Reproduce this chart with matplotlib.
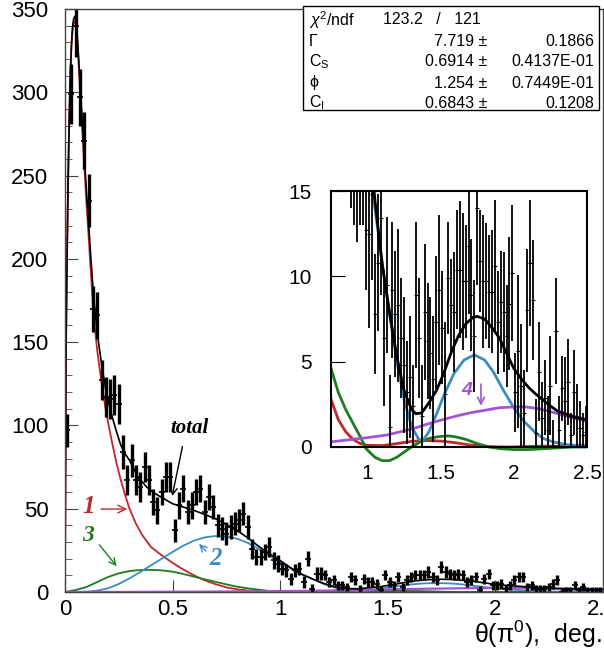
import numpy as np
import matplotlib
matplotlib.use("Agg")
import matplotlib.pyplot as plt
from matplotlib.patches import Rectangle

plt.rcParams['font.family'] = ['Liberation Sans', 'DejaVu Sans']
plt.rcParams['mathtext.fontset'] = 'custom'
plt.rcParams['mathtext.rm'] = 'Liberation Sans'
plt.rcParams['mathtext.it'] = 'Liberation Sans:italic'

# ============ data ============
# bin centres (bin width 0.02 deg)
theta = np.round(np.arange(0.01, 2.5, 0.02), 2)
counts = [97, 299, 340, 297, 271, 235, 170, 166, 127, 117,
          116, 118, 113, 84, 67, 79, 67, 63, 75, 67,
          54, 49, 60, 69, 69, 37, 52, 62, 48, 52,
          60, 62, 48, 57, 51, 40, 38, 35, 39, 41,
          43, 47, 39, 26, 21, 21, 24, 27, 19, 17,
          14, 13, 8, 13, 14, 6, 20, 2, 11, 11,
          10, 6, 7, 4, 4, 3, 9, 7, 2, 8,
          6, 6, 5, 1, 10, 6, 4, 9, 3, 7,
          9, 10, 10, 10, 12, 9, 7, 15, 12, 11,
          10, 11, 10, 6, 7, 9, 1, 8, 11, 4,
          4, 5, 2, 4, 7, 9, 9, 3, 4, 2,
          2, 2, 3, 5, 7, 0, 1, 1, 4, 1,
          3, 1, 1, 1, 1]
errs = [10, 18, 19, 17, 17, 16, 14, 14, 12, 12,
        12, 12, 12, 10, 9, 10, 9, 9, 9, 9,
        8, 8, 8, 9, 9, 7, 8, 8, 7, 8,
        8, 8, 7, 8, 7, 7, 7, 7, 7, 7,
        7, 7, 7, 6, 5, 5, 5, 6, 5, 5,
        4, 4, 3.5, 4, 4, 3.5, 4.5, 3, 4, 4,
        3, 3, 3, 2.5, 2.5, 2.5, 3, 3, 2.5, 3,
        3, 3, 3, 2.5, 3, 3, 2.5, 3, 2.5, 3,
        3, 3, 3, 3, 3.5, 3, 3, 3.5, 3.5, 3,
        3, 3, 3, 3, 3, 3, 2.5, 3, 3, 2.5,
        2.5, 3, 2.5, 2.5, 3, 3, 3, 2.5, 2.5, 2.5,
        2.5, 2.5, 2.5, 3, 3, 2, 2, 2, 2.5, 2,
        2.5, 2, 2, 2, 2]

# data shown in the zoomed inset
inset_theta = np.round(np.arange(0.89, 2.5, 0.02), 2)
inset_counts = [18, 17, 16.5, 17, 17, 12.7,
                12.5, 14.8, 7.8, 10.8, 13.4, 6.4, 9.5, 1.2, 9.2, 7.8,
                8.3, 6.4, 4.8, 3.2, 4.1, 2.4, 8.9, 6.4, 1.8, 7.9,
                6.2, 5.5, 4.0, 7.3, 9.2, 7.0, 3.1, 9.9, 8.3, 7.9,
                10.4, 10.4, 9.7, 9.7, 11.8, 8.9, 6.5, 14.0, 10.9, 9.7,
                9.7, 9.1, 9.1, 10.6, 7.3, 8.5, 7.9, 6.5, 8.4, 10.2,
                3.2, 5.6, 3.6, 2.0, 8.0, 10.8, 8.6, 0.8, 4.4, 1.7,
                2.9, 1.0, 3.6, 0.1, 6.8, 1.0, 3.45, 2.7, 3.8, 0.7,
                3.2, 1.7, 1.1, 0.7, 0.9]
inset_errs = [4, 4, 4.5, 4, 4, 3.5,
              5.5, 5, 3.5, 4, 4.5, 4, 4, 3, 4, 3.7,
              4.5, 3.5, 4, 3, 3.6, 2.4, 4.3, 3.5, 3, 4,
              3.4, 3.3, 3.7, 3.9, 4.4, 3.3, 4.2, 3.3, 2.7, 3.5,
              3.5, 4, 4, 3.3, 4, 3.3, 3.3, 4.5, 3, 3.9,
              3.4, 3.3, 3.6, 3.9, 3, 3, 3.5, 3, 3.9, 4,
              2.3, 4.5, 3.6, 2.5, 3.6, 3.7, 3.5, 2, 2.9, 2.1,
              2.2, 2, 2.9, 1.5, 3.1, 2, 1.9, 2.6, 2.5, 1.3,
              2.5, 2, 1.6, 1.3, 1.5]

# fit components
red_x = [0, 0.005, 0.01, 0.015, 0.02, 0.025, 0.03, 0.035, 0.04, 0.045, 0.05, 0.055, 0.06,
         0.07, 0.08, 0.09, 0.10, 0.11, 0.12, 0.13, 0.14, 0.15, 0.16, 0.17, 0.18, 0.19, 0.20,
         0.22, 0.24, 0.26, 0.28, 0.30, 0.33, 0.36, 0.40, 0.45, 0.50, 0.55, 0.60, 0.65, 0.70,
         0.75, 0.80, 0.85, 0.90, 0.95, 1.00, 1.10, 1.20, 1.30, 1.40, 1.50, 1.60, 1.70, 1.80,
         1.90, 2.00, 2.20, 2.50]
red_y = [0, 150, 205, 250, 285, 310, 327, 337, 342, 343, 341, 335, 325,
         302, 278, 255, 233, 213, 192, 172, 157, 145, 135, 126, 117, 109, 102,
         89, 77, 67, 58, 50, 41, 34, 27, 22, 17.5, 13.5, 10, 7, 4.7,
         2.8, 1.6, 0.9, 0.45, 0.2, 0.1, 0.08, 0.2, 0.33, 0.38, 0.35, 0.25, 0.12, 0.04,
         0.0, 0.0, 0.05, 0.02]

blue_x = [0, 0.1, 0.15, 0.2, 0.25, 0.3, 0.35, 0.4, 0.45, 0.5, 0.55, 0.6, 0.65, 0.7, 0.75,
          0.8, 0.85, 0.9, 0.95, 1.0, 1.05, 1.1, 1.15, 1.2, 1.25, 1.3, 1.35, 1.38, 1.42,
          1.47, 1.52, 1.59, 1.66, 1.73, 1.8, 1.86, 1.93, 2.0, 2.07, 2.14, 2.2, 2.27, 2.35,
          2.42, 2.5]
blue_y = [0, 0.2, 0.8, 2.2, 4.8, 8.2, 12, 16, 20, 24, 27.8, 30.8, 32.8, 33.6, 33.4,
          32, 29.5, 26, 22, 18, 14, 10.8, 7.8, 5.0, 2.8, 1.2, 0.45, 0.4, 0.9,
          1.9, 3.0, 4.3, 5.1, 5.4, 5.1, 4.4, 3.3, 2.3, 1.5, 0.9, 0.5, 0.3, 0.15,
          0.1, 0.1]

green_x = [0, 0.05, 0.1, 0.15, 0.2, 0.25, 0.3, 0.35, 0.4, 0.45, 0.5, 0.55, 0.6, 0.65, 0.7,
           0.75, 0.8, 0.85, 0.9, 0.95, 0.99, 1.05, 1.1, 1.15, 1.2, 1.25, 1.3, 1.36, 1.42,
           1.48, 1.55, 1.6, 1.67, 1.75, 1.83, 1.91, 2.0, 2.1, 2.2, 2.3, 2.4, 2.5]
green_y = [0, 1.2, 3, 6, 9, 11.2, 12.6, 13.2, 13.3, 13, 12.2, 10.8, 9.2, 7.6, 6.1,
           4.6, 3.2, 2.2, 1.4, 0.6, -0.1, -0.6, -0.8, -0.8, -0.6, -0.3, 0.0, 0.3, 0.5,
           0.6, 0.65, 0.6, 0.45, 0.2, 0.0, -0.1, -0.15, -0.15, -0.1, -0.05, 0.0, 0.0]

purple_x = [0, 0.3, 0.5, 0.75, 1.0, 1.13, 1.3, 1.47, 1.6, 1.7, 1.8, 1.9, 2.0, 2.08, 2.16,
            2.24, 2.32, 2.4, 2.5]
purple_y = [0, 0.05, 0.15, 0.3, 0.55, 0.7, 1.05, 1.5, 1.8, 2.0, 2.15, 2.3, 2.35, 2.35, 2.26,
            2.1, 1.9, 1.72, 1.5]

total_x = [0, 0.005, 0.01, 0.015, 0.02, 0.025, 0.03, 0.035, 0.04, 0.045, 0.05, 0.055, 0.06,
           0.07, 0.08, 0.09, 0.10, 0.11, 0.12, 0.13, 0.14, 0.15, 0.16, 0.17, 0.18, 0.19, 0.20,
           0.22, 0.24, 0.26, 0.28, 0.30, 0.34, 0.38, 0.42, 0.46, 0.50, 0.55, 0.60, 0.65, 0.70,
           0.75, 0.80, 0.85, 0.90, 0.95, 1.00, 1.05, 1.10, 1.15, 1.20, 1.25, 1.30, 1.33, 1.37,
           1.42, 1.47, 1.52, 1.57, 1.62, 1.67, 1.72, 1.75, 1.80, 1.85, 1.90, 1.95, 2.00, 2.05,
           2.10, 2.15, 2.20, 2.25, 2.30, 2.35, 2.40, 2.45, 2.50]
total_y = [0, 151, 206, 251, 287, 312, 329, 339, 344, 345.5, 344, 338, 328,
           306, 283, 261, 240, 221, 201, 183, 168, 156, 146, 137, 129, 121, 115,
           105, 96, 88, 83, 79, 69, 63, 59, 56, 53, 51, 49, 46.5, 44,
           40.5, 37, 32.5, 27.5, 23, 19, 14.5, 10.7, 7.9, 5.3, 3.3, 2.2, 1.95, 2.0,
           2.6, 3.3, 4.3, 5.5, 6.5, 7.2, 7.6, 7.65, 7.5, 7.0, 6.4, 5.5, 4.6, 4.0,
           3.5, 3.1, 2.75, 2.4, 2.1, 1.95, 1.8, 1.7, 1.6]

# stats box
stat_names = [r'$\chi^2$/ndf', 'Γ', r'C$_{\rm S}$', 'ϕ', r'C$_{\rm I}$']
stat_vals = ['7.719 ±', '0.6914 ±', '1.254 ±', '0.6843 ±']
stat_errs = ['0.1866', '0.4137E-01', '0.7449E-01', '0.1208']
chi2_text = '123.2   /   121'

RED = '#c1272d'
BLUE = '#3a8cc1'
GREEN = '#1e7b1e'
PURPLE = '#a552d4'

W, H = 604, 654
fig = plt.figure(figsize=(W / 100, H / 100), dpi=100)

def fx(px):
    return px / W

def fy(py):
    return 1 - py / H

# ============ main plot ============
ax = fig.add_axes([fx(65), fy(592), (602.5 - 65) / W, (592 - 9) / H])
ax.plot(red_x, red_y, color=RED, lw=1.3)
ax.plot(green_x, green_y, color=GREEN, lw=1.3)
ax.plot(blue_x, blue_y, color=BLUE, lw=1.3)
ax.plot(purple_x, purple_y, color=PURPLE, lw=1.6)
ax.plot(total_x, total_y, color='black', lw=1.2)
ax.errorbar(theta, counts, yerr=errs, fmt='_', color='black', ms=5, mew=1.2,
            elinewidth=2.4, capsize=0)
ax.set_xlim(0, 2.5)
ax.set_ylim(0, 350)
ax.set_xticks([0, 0.5, 1, 1.5, 2, 2.5])
ax.set_xticklabels(['0', '0.5', '1', '1.5', '2', '2.5'])
ax.set_yticks(np.arange(0, 351, 50))
ax.set_yticks(np.arange(0, 351, 10), minor=True)
ax.tick_params(axis='both', which='major', direction='in', labelsize=16, length=9,
               color='#444444')
ax.tick_params(axis='y', which='major', pad=12)
ax.tick_params(axis='x', which='major', pad=5)
ax.tick_params(axis='y', which='minor', direction='in', length=5, color='#444444')
for s in ax.spines.values():
    s.set_color('#444444')
    s.set_linewidth(1.0)

# axis title sits at the lower right, under the tick labels
fig.text(fx(602), fy(634), 'θ(π$^{0}$),  deg.', fontsize=18, ha='right', va='center')

serif = dict(family='Liberation Serif', weight='bold', style='italic')
ax.text(0.577, 98.5, 'total', fontsize=15, ha='center', va='center', color='black', **serif)
ax.annotate('', xy=(0.496, 56), xytext=(0.549, 89),
            arrowprops=dict(arrowstyle='->', color='black', lw=1.0, mutation_scale=12))
ax.text(0.112, 51.5, '1', fontsize=18, ha='center', va='center', color=RED, **serif)
ax.annotate('', xy=(0.302, 49.8), xytext=(0.155, 49.8),
            arrowprops=dict(arrowstyle='->', color=RED, lw=1.0, mutation_scale=14))
ax.text(0.702, 20.4, '2', fontsize=18, ha='center', va='center', color=BLUE, **serif)
ax.annotate('', xy=(0.614, 30), xytext=(0.665, 23.4),
            arrowprops=dict(arrowstyle='->', color=BLUE, lw=1.0, mutation_scale=12))
ax.text(0.107, 34.2, '3', fontsize=17, ha='center', va='center', color=GREEN, **serif)
ax.annotate('', xy=(0.248, 14.2), xytext=(0.152, 29.6),
            arrowprops=dict(arrowstyle='->', color=GREEN, lw=1.0, mutation_scale=12))

# ============ inset ============
ins = fig.add_axes([fx(331), fy(447), 256 / W, 256 / H])
ins.plot(red_x, red_y, color=RED, lw=2)
green_line, = ins.plot(green_x, green_y, color=GREEN, lw=2)
# the green dip is drawn a little below the inset frame
green_line.set_clip_path(Rectangle((0, -0.08), 1, 1.08, transform=ins.transAxes))
ins.plot(blue_x, blue_y, color=BLUE, lw=2)
ins.plot(purple_x, purple_y, color=PURPLE, lw=2)
ins.plot(total_x, total_y, color='black', lw=2)
ins.errorbar(inset_theta, inset_counts, yerr=inset_errs, fmt='_', color='black', ms=3,
             mew=0.8, elinewidth=1.3, capsize=0)
ins.set_xlim(0.75, 2.5)
ins.set_ylim(0, 15)
ins.set_xticks([1, 1.5, 2, 2.5])
ins.set_xticklabels(['1', '1.5', '2', '2.5'])
ins.set_yticks([0, 5, 10, 15])
ins.tick_params(axis='y', direction='in', length=10, labelsize=15, pad=14)
ins.tick_params(axis='x', direction='in', length=0, labelsize=15, pad=12)
for s in ins.spines.values():
    s.set_linewidth(1.5)
ins.text(1.675, 3.3, '4', fontsize=14, ha='center', va='center', color=PURPLE,
         weight='bold', style='italic')
ins.annotate('', xy=(1.775, 2.25), xytext=(1.775, 3.85),
             arrowprops=dict(arrowstyle='->', color=PURPLE, lw=1.2, mutation_scale=12))

# ============ stats box ============
fig.patches.append(Rectangle((fx(303), fy(110)), (599 - 303) / W, (110 - 6) / H,
                             transform=fig.transFigure, fill=True, facecolor='white',
                             edgecolor='black', lw=1.0, zorder=5))
rows_y = [20, 41, 62, 83, 103]
for i, name in enumerate(stat_names):
    fig.text(fx(309), fy(rows_y[i]), name, fontsize=11.5, ha='left', va='center', zorder=6)
fig.text(fx(383), fy(rows_y[0]), chi2_text, fontsize=11.5, ha='left', va='center', zorder=6)
for i in range(4):
    fig.text(fx(487), fy(rows_y[i + 1]), stat_vals[i], fontsize=11.5, ha='right',
             va='center', zorder=6)
    fig.text(fx(594), fy(rows_y[i + 1]), stat_errs[i], fontsize=11.5, ha='right',
             va='center', zorder=6)

plt.savefig("out.png", dpi=100)
